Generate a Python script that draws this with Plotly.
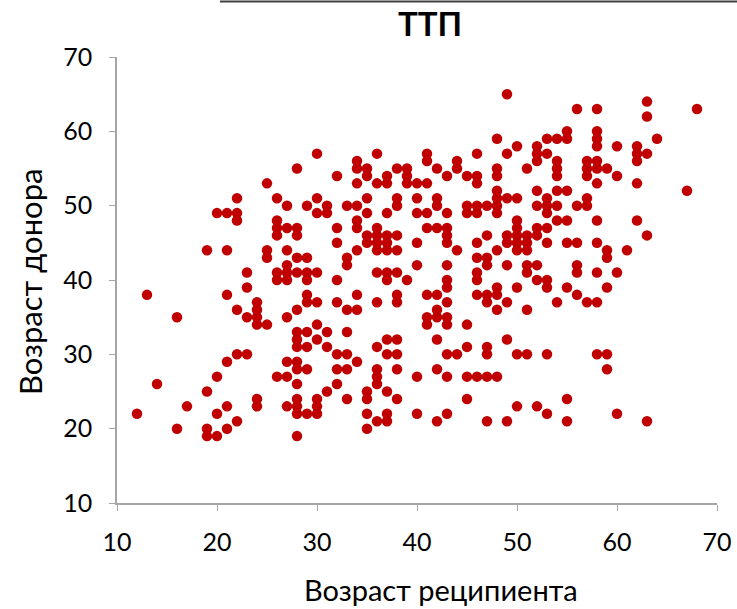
import plotly.graph_objects as go

# Recipient age (x) and donor age (y)
recipient_age = (
    [12] + [13] + [14] + [16]*2 + [17] + [19]*4 + [20]*4 + [21]*6 + [22]*6 + [23]*4 + [24]*6 +
    [25]*4 + [26]*7 + [27]*10 + [28]*16 + [29]*10 + [30]*10 + [31]*5 + [32]*8 + [33]*8 +
    [34]*10 + [35]*10 + [36]*13 + [37]*13 + [38]*12 + [39]*4 + [40]*7 + [41]*8 + [42]*10 +
    [43]*14 + [44]*4 + [45]*7 + [46]*11 + [47]*10 + [48]*12 + [49]*9 + [50]*10 + [51]*8 +
    [52]*10 + [53]*11 + [54]*8 + [55]*8 + [56]*6 + [57]*6 + [58]*12 + [59]*6 + [60]*4 +
    [61] + [62]*5 + [63]*5 + [64] + [67] + [68]
)
donor_age = [
    22,
    38,
    26,
    35, 20,
    23,
    44, 25, 20, 19,
    49, 27, 22, 19,
    49, 44, 38, 29, 23, 20,
    51, 49, 48, 36, 30, 21,
    41, 39, 35, 30,
    37, 36, 35, 34, 24, 23,
    53, 44, 43, 34,
    51, 48, 47, 46, 41, 40, 27,
    50, 47, 44, 42, 41, 40, 35, 29, 27, 23,
    55, 47, 46, 43, 41, 36, 33, 32, 31, 29, 28, 26, 24, 23, 22, 19,
    50, 43, 41, 40, 38, 37, 33, 31, 28, 22,
    57, 51, 49, 41, 37, 34, 32, 24, 23, 22,
    50, 49, 33, 31, 25,
    54, 47, 45, 40, 37, 30, 28, 26,
    50, 43, 42, 36, 33, 30, 28, 24,
    56, 55, 53, 50, 48, 47, 44, 38, 36, 29,
    55, 54, 51, 49, 46, 45, 25, 24, 22, 20,
    57, 53, 47, 46, 45, 44, 41, 37, 31, 28, 27, 26, 21,
    54, 53, 49, 46, 45, 44, 41, 40, 32, 30, 25, 22, 21,
    55, 51, 50, 46, 44, 41, 38, 37, 32, 30, 28, 24,
    55, 54, 53, 40,
    53, 51, 49, 45, 42, 27, 22,
    57, 56, 53, 49, 47, 38, 35, 34,
    55, 51, 50, 47, 38, 36, 35, 32, 28, 21,
    54, 49, 47, 46, 45, 42, 40, 39, 37, 35, 34, 30, 27, 22,
    56, 55, 44, 30,
    54, 50, 49, 34, 31, 27, 24,
    57, 54, 53, 50, 49, 45, 43, 41, 40, 38, 27,
    50, 46, 43, 42, 38, 37, 31, 30, 27, 21,
    59, 55, 54, 52, 51, 50, 49, 44, 39, 38, 36, 27,
    65, 57, 51, 46, 45, 42, 37, 32, 21,
    58, 51, 48, 47, 46, 45, 44, 39, 30, 23,
    55, 46, 45, 44, 42, 41, 36, 30,
    58, 57, 56, 52, 50, 47, 46, 42, 40, 23,
    59, 57, 51, 50, 49, 47, 45, 40, 39, 30, 22,
    59, 56, 55, 54, 52, 50, 48, 37,
    60, 59, 52, 48, 45, 39, 24, 21,
    63, 50, 45, 42, 41, 38,
    56, 55, 54, 51, 50, 37,
    63, 60, 59, 58, 56, 55, 53, 48, 45, 41, 37, 30,
    55, 44, 43, 39, 30, 28,
    58, 54, 41, 22,
    44,
    58, 57, 56, 53, 48,
    64, 62, 57, 46, 21,
    59,
    52,
    63,
]

x_ticks = [10, 20, 30, 40, 50, 60, 70]
y_ticks = [10, 20, 30, 40, 50, 60, 70]
title_text = "ТТП"
x_title = "Возраст реципиента"
y_title = "Возраст донора"

FONT = "Lato, 'Open Sans', sans-serif"
AXIS_COLOR = "#a6a6a6"

fig = go.Figure(
    go.Scatter(
        x=recipient_age,
        y=donor_age,
        mode="markers",
        marker=dict(color="#c00000", size=10.5, line=dict(width=0)),
        hoverinfo="x+y",
    )
)

fig.update_layout(
    width=737,
    height=609,
    margin=dict(l=117, r=20, t=57, b=106, autoexpand=False),
    paper_bgcolor="white",
    plot_bgcolor="white",
    showlegend=False,
    font=dict(family=FONT, color="black", size=24),
    title=dict(
        text=f"<b>{title_text}</b>",
        x=430 / 737,
        xanchor="center",
        xref="container",
        y=1 - 24 / 609,
        yanchor="middle",
        yref="container",
        font=dict(size=33, family=FONT, color="black"),
    ),
    xaxis=dict(
        range=[10, 70],
        tickvals=x_ticks,
        showgrid=False,
        zeroline=False,
        showline=True,
        automargin=False,
        linecolor=AXIS_COLOR,
        linewidth=1.5,
        ticks="outside",
        ticklen=6,
        tickcolor=AXIS_COLOR,
        ticklabelstandoff=10,
        tickfont=dict(size=25, family=FONT, color="black"),
    ),
    yaxis=dict(
        range=[10, 70],
        tickvals=y_ticks,
        showgrid=False,
        zeroline=False,
        showline=True,
        automargin=False,
        linecolor=AXIS_COLOR,
        linewidth=1.5,
        ticks="outside",
        ticklen=6,
        tickcolor=AXIS_COLOR,
        ticklabelstandoff=12,
        tickfont=dict(size=25, family=FONT, color="black"),
    ),
    annotations=[
        dict(
            text=x_title,
            xref="paper", yref="paper",
            x=(441 - 117) / 600, y=(503 - 589) / 446,
            xanchor="center", yanchor="middle",
            showarrow=False,
            font=dict(size=29, family=FONT, color="black"),
        ),
        dict(
            text=y_title,
            xref="paper", yref="paper",
            x=(30 - 117) / 600, y=(503 - 282) / 446,
            xanchor="center", yanchor="middle",
            textangle=-90,
            showarrow=False,
            font=dict(size=31, family=FONT, color="black"),
        ),
    ],
    shapes=[
        dict(
            type="line",
            xref="paper", yref="paper",
            x0=(220 - 117) / 600, x1=(737 - 117) / 600,
            y0=(503 - 1.5) / 446, y1=(503 - 1.5) / 446,
            line=dict(color="#404040", width=2),
        )
    ],
)

fig.write_html("out.html")
